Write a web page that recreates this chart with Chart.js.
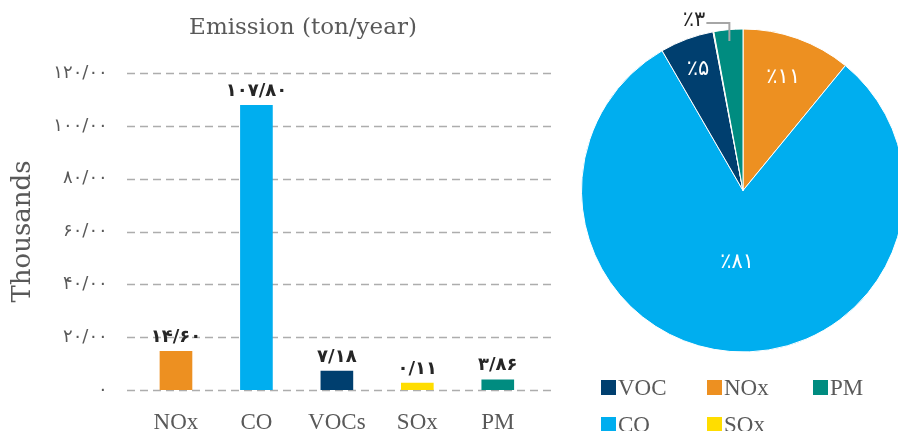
<!DOCTYPE html>
<html>
<head>
<meta charset="utf-8">
<script src="https://cdn.jsdelivr.net/npm/chart.js@4/dist/chart.umd.min.js"></script>
<style>
  html, body { margin: 0; padding: 0; background: #fff; overflow: hidden; }
  body { width: 898px; height: 431px; position: relative; }
  #barWrap { position: absolute; left: 0; top: 0; width: 575px; height: 431px; }
  #pieWrap { position: absolute; left: 575px; top: 0; width: 336px; height: 381px; }
  #title {
    position: absolute; left: 103px; width: 400px; top: 13px; text-align: center;
    font: 23px "DejaVu Serif", serif; color: #595959;
  }
  #legend {
    position: absolute; left: 601px; top: 369px;
    display: grid; grid-template-columns: 106px 106px 106px; grid-auto-rows: 37px;
    font: 23px "Liberation Serif", serif; color: #595959;
  }
  #legend span { display: flex; align-items: center; }
  #legend i { display: inline-block; width: 15px; height: 15px; margin-right: 2px; }
</style>
</head>
<body>
<div id="barWrap"><canvas id="barChart"></canvas></div>
<div id="title">Emission (ton/year)</div>
<div id="pieWrap"><canvas id="pieChart"></canvas></div>
<div id="legend"></div>

<script>
// emissions in thousand tons per year
const pollutants = ['NOx', 'CO', 'VOCs', 'SOx', 'PM'];
const emissions = [14.60, 107.80, 7.18, 0.11, 3.86];
const colors = ['#ED9021', '#00AEEF', '#003F6F', '#FFDD00', '#008C80'];

// pie uses the same values, legend shows short names in its own order
const pieNames = ['NOx', 'CO', 'VOC', 'SOx', 'PM'];
const legendOrder = ['VOC', 'NOx', 'PM', 'CO', 'SOx'];

const yTicks = [0, 20, 40, 60, 80, 100, 120];

const faDigits = '۰۱۲۳۴۵۶۷۸۹';
function toFa(str) {
    return String(str).replace(/\d/g, d => faDigits[d]).replace('.', '/');
}

const dashedGrid = {
    id: 'dashedGrid',
    beforeDatasetsDraw(chart) {
        const ctx = chart.ctx;
        const y = chart.scales.y;
        ctx.save();
        ctx.strokeStyle = '#ADADAD';
        ctx.lineWidth = 1.3;
        ctx.setLineDash([8, 5]);
        yTicks.forEach(v => {
            const py = Math.round(y.getPixelForValue(v)) + 0.5;
            ctx.beginPath();
            ctx.moveTo(127, py);
            ctx.lineTo(552, py);
            ctx.stroke();
        });
        ctx.restore();
    }
};

const barValues = {
    id: 'barValues',
    afterDatasetsDraw(chart) {
        const ctx = chart.ctx;
        const meta = chart.getDatasetMeta(0);
        ctx.save();
        ctx.fillStyle = '#262626';
        ctx.font = 'bold 18px "DejaVu Sans"';
        ctx.textAlign = 'center';
        ctx.textBaseline = 'bottom';
        meta.data.forEach((bar, i) => {
            ctx.fillText(toFa(emissions[i].toFixed(2)), bar.x, bar.y - 5);
        });
        ctx.restore();
    }
};

new Chart(document.getElementById('barChart'), {
    type: 'bar',
    data: {
        labels: pollutants,
        datasets: [{
            data: emissions,
            backgroundColor: colors,
            barThickness: 32,
            minBarLength: 7
        }]
    },
    options: {
        animation: false,
        responsive: true,
        maintainAspectRatio: false,
        layout: { padding: { top: 73, right: 37, left: 0, bottom: 0 } },
        plugins: { legend: { display: false }, tooltip: { enabled: false } },
        scales: {
            x: {
                grid: { display: false, drawTicks: false },
                border: { display: false },
                ticks: { color: '#595959', font: { family: 'Liberation Serif', size: 23 }, padding: 19 },
                afterFit: s => { s.height = 41; }
            },
            y: {
                min: 0,
                max: 120,
                grid: { display: false, drawTicks: false },
                border: { display: false },
                ticks: {
                    stepSize: 20,
                    color: '#595959',
                    font: { family: 'DejaVu Sans', size: 18 },
                    padding: 28,
                    callback: v => v === 0 ? '۰' : toFa(v.toFixed(2))
                },
                title: {
                    display: true,
                    text: 'Thousands',
                    color: '#595959',
                    font: { family: 'DejaVu Serif', size: 26 },
                    padding: { top: 8, bottom: 0 }
                },
                afterFit: s => { s.width = 135.75; }
            }
        }
    },
    plugins: [dashedGrid, barValues]
});

const pieLabels = {
    id: 'pieLabels',
    afterDatasetsDraw(chart) {
        const ctx = chart.ctx;
        const meta = chart.getDatasetMeta(0);
        const total = emissions.reduce((a, b) => a + b, 0);
        const radiusFrac = [0.74, 0.45, 0.8, 0.8, 0.93];
        ctx.save();
        ctx.textAlign = 'center';
        ctx.textBaseline = 'middle';
        meta.data.forEach((arc, i) => {
            const pct = Math.round(emissions[i] / total * 100);
            if (!pct) return;
            const text = '٪' + toFa(pct);
            const mid = (arc.startAngle + arc.endAngle) / 2;
            const r = arc.outerRadius * radiusFrac[i];
            const px = arc.x + Math.cos(mid) * r;
            const py = arc.y + Math.sin(mid) * r;
            if (pct < 4) {
                // small slice: label outside with an elbow leader line
                const topY = arc.y - arc.outerRadius - 6;
                ctx.strokeStyle = '#A6A6A6';
                ctx.lineWidth = 2;
                ctx.beginPath();
                ctx.moveTo(px, py);
                ctx.lineTo(px, topY);
                ctx.lineTo(px - 23, topY);
                ctx.stroke();
                ctx.fillStyle = '#262626';
                ctx.font = '21px "DejaVu Sans"';
                ctx.textAlign = 'right';
                ctx.fillText(text, px - 24, topY - 2);
                ctx.textAlign = 'center';
            } else {
                ctx.fillStyle = '#FFFFFF';
                ctx.font = '21px "DejaVu Sans"';
                ctx.fillText(text, px, py);
            }
        });
        ctx.restore();
    }
};

new Chart(document.getElementById('pieChart'), {
    type: 'pie',
    data: {
        labels: pieNames,
        datasets: [{
            data: emissions,
            backgroundColor: colors,
            borderColor: '#FFFFFF',
            borderWidth: 1,
            hoverOffset: 0
        }]
    },
    options: {
        animation: false,
        responsive: true,
        maintainAspectRatio: false,
        layout: { padding: 6 },
        plugins: { legend: { display: false }, tooltip: { enabled: false } }
    },
    plugins: [pieLabels]
});

// legend grid under the pie
const legend = document.getElementById('legend');
legendOrder.forEach(name => {
    const item = document.createElement('span');
    const box = document.createElement('i');
    box.style.background = colors[pieNames.indexOf(name)];
    item.appendChild(box);
    item.appendChild(document.createTextNode(name));
    legend.appendChild(item);
});
</script>
</body>
</html>
